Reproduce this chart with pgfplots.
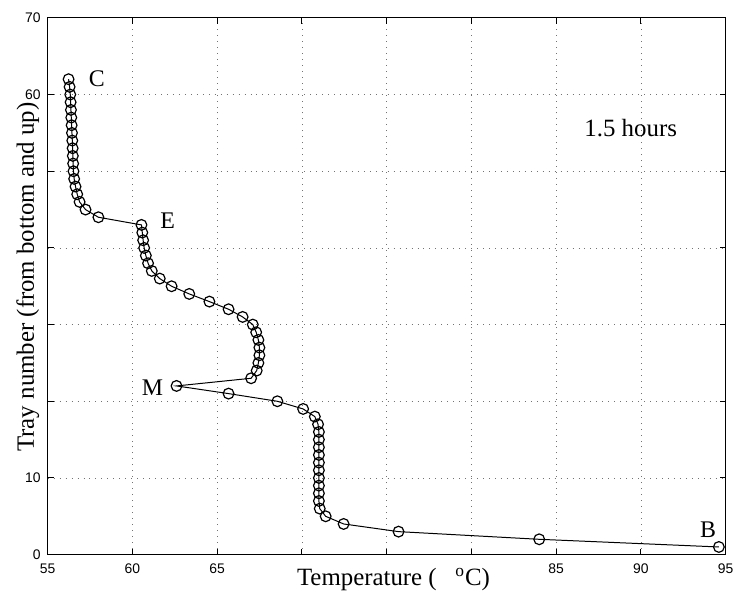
\documentclass[border=0pt]{standalone}
\usepackage{fontspec}
\setmainfont{Liberation Serif}
\newfontfamily\tickfont{Liberation Sans}
\usepackage{pgfplots}
\pgfplotsset{compat=1.18}

\begin{document}
\begin{tikzpicture}
\begin{axis}[
    scale only axis,
    width=341pt, height=270pt,
    xmin=55, xmax=95, ymin=0, ymax=70,
    xtick={55,60,...,95},
    xticklabels={55,60,65,,,,85,90,95},
    ytick={0,10,...,70},
    yticklabels={0,10,,,,,60,70},
    /pgf/number format/assume math mode=true,
    tick label style={font=\tickfont\fontsize{7pt}{8pt}\selectfont},
    xticklabel style={yshift=-1pt},
    tick align=inside,
    tick pos=both,
    major tick length=3pt,
    axis line style={line width=0.6pt},
    tick style={line width=0.5pt, black},
    grid=major,
    major grid style={black!55, line width=0.4pt, dash pattern=on 0.4pt off 2.6pt},
    xlabel={Temperature (\ \ \ \textsuperscript{o}C)},
    ylabel={Tray number (from bottom and up)},
    label style={font=\fontsize{12.5pt}{14pt}\selectfont},
    xlabel style={at={(axis description cs:0.51,-0.0574)}, anchor=base},
    ylabel style={at={(axis description cs:-0.0205,0.517)}, anchor=base},
    clip=false,
]
% invisible frame that fixes the page size
\path (axis description cs:-0.0704,-0.0889) rectangle (axis description cs:1.0147,1.0333);

\addplot[black, line width=0.5pt, mark=o, mark size=2.7pt,
         mark options={line width=0.6pt}] coordinates {
    (94.6,1) (84.0,2) (75.7,3) (72.46,4) (71.4,5) (71.05,6)
    (71.0,7) (71.0,8) (71.0,9) (71.0,10) (71.0,11) (71.0,12)
    (71.0,13) (71.0,14) (71.0,15) (71.0,16) (70.95,17) (70.76,18)
    (70.07,19) (68.55,20) (65.67,21) (62.6,22) (67.0,23) (67.33,24)
    (67.43,25) (67.49,26) (67.49,27) (67.43,28) (67.3,29) (67.1,30)
    (66.5,31) (65.67,32) (64.54,33) (63.35,34) (62.31,35) (61.61,36)
    (61.14,37) (60.92,38) (60.79,39) (60.69,40) (60.63,41) (60.58,42)
    (60.53,43) (57.99,44) (57.23,45) (56.88,46) (56.74,47) (56.64,48)
    (56.56,49) (56.52,50) (56.5,51) (56.48,52) (56.47,53) (56.45,54)
    (56.43,55) (56.41,56) (56.39,57) (56.37,58) (56.35,59) (56.33,60)
    (56.29,61) (56.23,62)
};

\node[font=\fontsize{12pt}{14pt}\selectfont] at (axis cs:57.9,62.0) {C};
\node[font=\fontsize{12pt}{14pt}\selectfont] at (axis cs:62.07,43.6) {E};
\node[font=\fontsize{12pt}{14pt}\selectfont] at (axis cs:61.18,21.8) {M};
\node[font=\fontsize{12pt}{14pt}\selectfont] at (axis cs:93.97,3.2) {B};
\node[font=\fontsize{12.5pt}{14pt}\selectfont] at (axis cs:89.4,55.6) {1.5 hours};
\end{axis}
\end{tikzpicture}
\end{document}
